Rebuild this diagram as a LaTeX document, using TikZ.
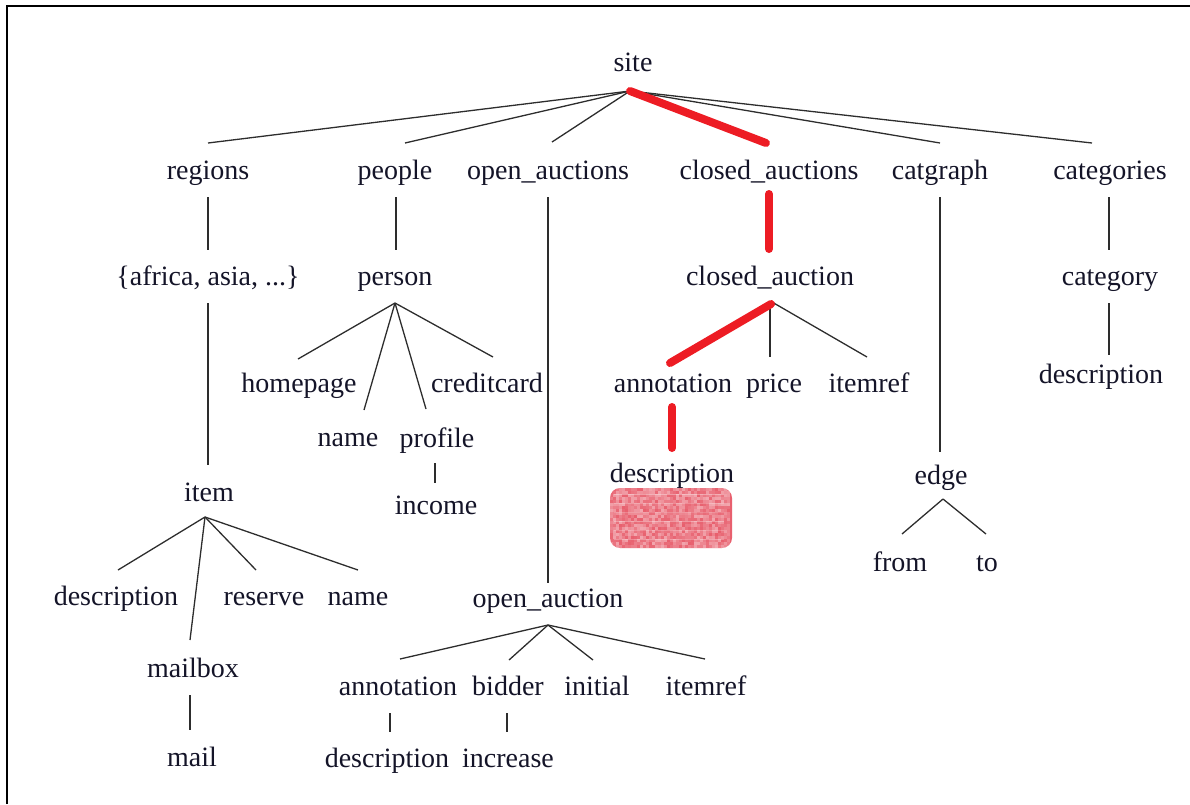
\documentclass[tikz,border=0pt]{standalone}
\usepackage{fontspec}
\usetikzlibrary{calc}
\setmainfont{Liberation Serif}
\definecolor{inkc}{RGB}{20,20,40}
\definecolor{linec}{RGB}{45,45,45}
\definecolor{hotred}{RGB}{237,28,36}
\definecolor{maskred}{RGB}{232,96,110}
% branch from the base of one label to the base of another, each end shifted
\newcommand{\treelink}[5][branch]{\draw[#1] ([shift={#3}]#2.base) -- ([shift={#5}]#4.base);}
\begin{document}
\begin{tikzpicture}[x=1pt,y=-1pt,
  lbl/.style={anchor=base,inner sep=0pt,text=inkc,font=\fontsize{28}{32}\selectfont},
  branch/.style={draw=linec,line width=1.3pt},
  hot/.style={draw=hotred,line width=8pt,line cap=round},
  redact/.style={fill=maskred,rounded corners=10pt,minimum width=122pt,minimum height=60pt,inner sep=0pt}
]
\useasboundingbox (0,0) rectangle (1190,804);
% frame
\draw[line width=2pt] (7,804) -- (7,6) -- (1190,6);

% labels
\node[lbl] (site) at (633,71) {site};
\node[lbl] (regions) at (208,179) {regions};
\node[lbl] (people) at (395,179) {people};
\node[lbl] (openauctions) at (548,179) {open\_auctions};
\node[lbl] (closedauctions) at (769,179) {closed\_auctions};
\node[lbl] (catgraph) at (940,179) {catgraph};
\node[lbl] (categories) at (1110,179) {categories};

\node[lbl] (regionlist) at (208,285) {\{africa, asia, ...\}};
\node[lbl] (person) at (395,285) {person};
\node[lbl] (closedauction) at (770,285) {closed\_auction};
\node[lbl] (category) at (1110,285) {category};
\node[lbl] (catdesc) at (1101,383) {description};

\node[lbl] (homepage) at (299,392) {homepage};
\node[lbl] (creditcard) at (487,392) {creditcard};
\node[lbl] (pname) at (348,446) {name};
\node[lbl] (profile) at (437,447) {profile};
\node[lbl] (income) at (436,514) {income};

\node[lbl] (item) at (209,501) {item};
\node[lbl] (idesc) at (116,605) {description};
\node[lbl] (reserve) at (264,605) {reserve};
\node[lbl] (iname) at (358,605) {name};
\node[lbl] (mailbox) at (193,677) {mailbox};
\node[lbl] (mail) at (192,766) {mail};

\node[lbl] (caannot) at (673,392) {annotation};
\node[lbl] (price) at (774,392) {price};
\node[lbl] (caitemref) at (869,392) {itemref};
\node[lbl] (cadesc) at (672,482) {description};
\node[redact] (masked) at (671,518) {};
% scribbled texture over the masked box
\begin{scope}
  \clip[rounded corners=10pt] (masked.south west) rectangle (masked.north east);
  \pgfmathsetseed{7}
  \foreach \i in {0,...,39} {
    \foreach \j in {0,...,19} {
      \pgfmathsetmacro{\op}{0.45*rnd}
      \fill[white,opacity=\op] ($(masked.north west)+(3*\i,3*\j)$) rectangle +(3,3);
    }
  }
  \foreach \j in {6,15,24,33,42,51} {
    \pgfmathsetmacro{\op}{0.15+0.2*rnd}
    \fill[white,opacity=\op] ($(masked.north west)+(4,\j)$) rectangle +(110,1.5);
  }
\end{scope}

\node[lbl] (edgenode) at (941,484) {edge};
\node[lbl] (efrom) at (900,571) {from};
\node[lbl] (eto) at (987,571) {to};

\node[lbl] (openauction) at (548,607) {open\_auction};
\node[lbl] (oaannot) at (398,695) {annotation};
\node[lbl] (bidder) at (508,695) {bidder};
\node[lbl] (initial) at (597,695) {initial};
\node[lbl] (oaitemref) at (706,695) {itemref};
\node[lbl] (oadesc) at (387,767) {description};
\node[lbl] (increase) at (508,767) {increase};

% site
\treelink{site}{(-3,20)}{regions}{(0,-36)}
\treelink{site}{(-3,20)}{people}{(10,-36)}
\treelink{site}{(-3,20)}{openauctions}{(4,-37)}
\treelink{site}{(-3,20)}{catgraph}{(0,-36)}
\treelink{site}{(-3,20)}{categories}{(-18,-36)}
\treelink[hot]{site}{(-3,20)}{closedauctions}{(-3,-36)}

% second level
\treelink{regions}{(0,18)}{regionlist}{(0,-35)}
\treelink{people}{(1,18)}{person}{(1,-35)}
\treelink{openauctions}{(0,18)}{openauction}{(0,-24)}
\treelink[hot]{closedauctions}{(0,15)}{closedauction}{(-1,-36)}
\treelink{catgraph}{(0,18)}{edgenode}{(-1,-32)}
\treelink{categories}{(-1,18)}{category}{(-1,-35)}
\treelink{category}{(-1,18)}{catdesc}{(8,-28)}

% regions subtree
\treelink{regionlist}{(0,18)}{item}{(-1,-36)}
\treelink{item}{(-4,16)}{idesc}{(2,-35)}
\treelink{item}{(-4,16)}{mailbox}{(-3,-37)}
\treelink{item}{(-4,16)}{reserve}{(-8,-35)}
\treelink{item}{(-4,16)}{iname}{(0,-35)}
\treelink{mailbox}{(-3,18)}{mail}{(-2,-36)}

% person subtree
\treelink{person}{(0,18)}{homepage}{(-1,-33)}
\treelink{person}{(0,18)}{pname}{(16,-36)}
\treelink{person}{(0,18)}{profile}{(-11,-38)}
\treelink{person}{(0,18)}{creditcard}{(6,-35)}
\treelink{profile}{(-2,16)}{income}{(-1,-31)}

% closed_auction subtree
\treelink{closedauction}{(0,17)}{price}{(-4,-35)}
\treelink{closedauction}{(2,17)}{caitemref}{(-2,-35)}
\treelink[hot]{closedauction}{(1,19)}{caannot}{(-3,-29)}
\treelink[hot]{caannot}{(-1,15)}{cadesc}{(0,-34)}

% catgraph subtree
\treelink{edgenode}{(2,15)}{efrom}{(2,-37)}
\treelink{edgenode}{(2,15)}{eto}{(-1,-37)}

% open_auction subtree
\treelink{openauction}{(0,18)}{oaannot}{(2,-36)}
\treelink{openauction}{(0,18)}{bidder}{(1,-35)}
\treelink{openauction}{(0,18)}{initial}{(-4,-35)}
\treelink{openauction}{(0,18)}{oaitemref}{(-1,-36)}
\treelink{oaannot}{(-8,18)}{oadesc}{(3,-35)}
\treelink{bidder}{(-1,18)}{increase}{(-1,-35)}
\end{tikzpicture}
\end{document}
